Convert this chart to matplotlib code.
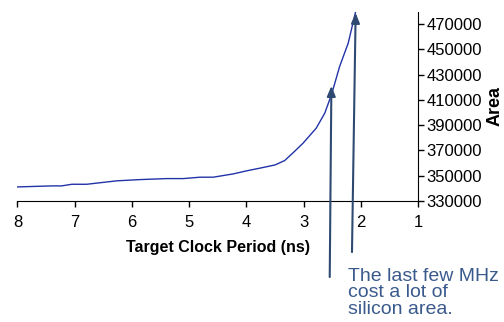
import matplotlib
matplotlib.use("Agg")
import matplotlib.pyplot as plt

plt.rcParams['font.family'] = ['Liberation Sans', 'DejaVu Sans']

period_ns = [8.0, 7.4, 7.23, 7.05, 6.79, 6.27, 5.86, 5.39, 5.10, 4.81, 4.58, 4.23,
             4.0, 3.77, 3.5, 3.33, 3.18, 3.01, 2.78, 2.63, 2.51, 2.37, 2.22, 2.09]
area = [341100, 341900, 341900, 343200, 343200, 345900, 346900, 347700, 347700,
        348800, 348800, 351400, 353800, 355900, 358500, 362000, 368300, 375700,
        387600, 399500, 414500, 436500, 455000, 480000]

x_ticks = [8, 7, 6, 5, 4, 3, 2, 1]
y_ticks = [330000, 350000, 370000, 390000, 410000, 430000, 450000, 470000]

annotation = "The last few MHz\ncost a lot of\nsilicon area."
arrow_starts = [(2.543, 269700), (2.154, 289500)]
arrow_tips = [(2.514, 421100), (2.09, 479000)]

fig = plt.figure(figsize=(5.04, 3.22), dpi=100)
ax = fig.add_axes([0.0347, 0.376, 0.7947, 0.588])

ax.plot(period_ns, area, color='#2233a8', lw=1.0)
ax.set_xlim(8, 1)
ax.set_ylim(330000, 480000)
ax.set_xticks(x_ticks)
ax.set_yticks(y_ticks)
ax.yaxis.tick_right()
ax.yaxis.set_label_position('right')
for s in ['top', 'left']:
    ax.spines[s].set_visible(False)
ax.tick_params(axis='both', direction='out', length=4, width=1, labelsize=12, colors='black')
ax.tick_params(axis='y', pad=2)
ax.tick_params(axis='x', pad=6)
ax.set_xlabel('Target Clock Period (ns)', fontsize=11.5, fontweight='bold', labelpad=7)
ax.set_ylabel('Area', fontsize=13, fontweight='bold', labelpad=3)

arrow_color = '#2e4a72'
for (x0, y0), (x1, y1) in zip(arrow_starts, arrow_tips):
    ax.annotate('', xy=(x1, y1), xytext=(x0, y0),
                arrowprops=dict(arrowstyle='-|>,head_length=0.6,head_width=0.25',
                                color=arrow_color, lw=1.5, shrinkA=0, shrinkB=0),
                annotation_clip=False)

fig.text(348 / 504, 1 - 268 / 322, annotation, fontsize=14, color='#3a5a8c',
         va='top', ha='left', linespacing=0.95)

fig.savefig('out.png', dpi=100)
